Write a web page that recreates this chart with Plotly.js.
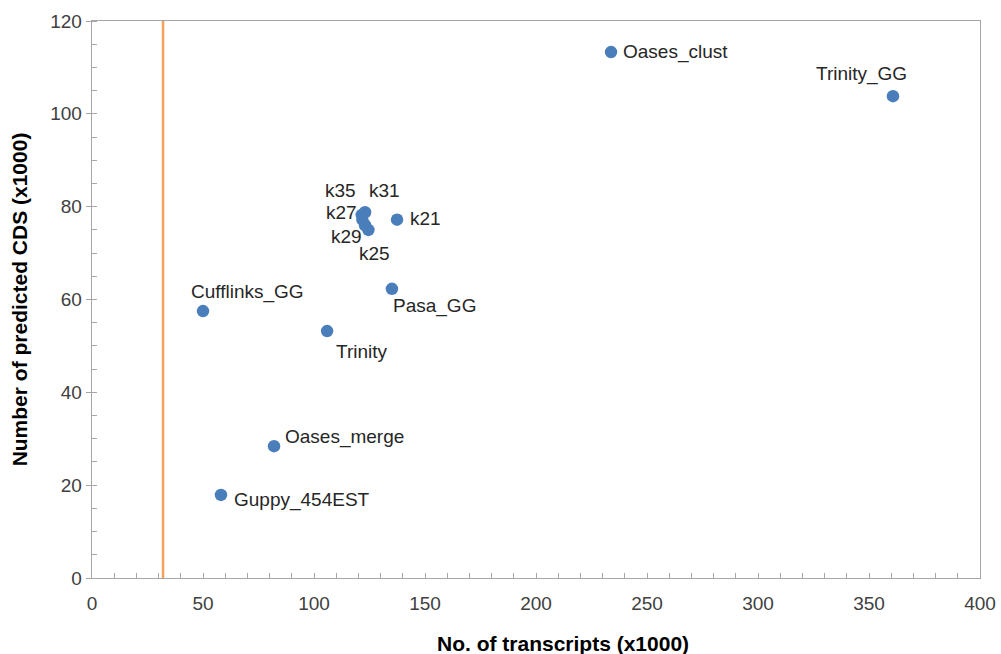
<!DOCTYPE html>
<html>
<head>
<meta charset="utf-8">
<script src="https://cdn.plot.ly/plotly-3.0.1.min.js"></script>
<style>html,body{margin:0;padding:0;background:#fff;}#chart{width:1001px;height:654px;}</style>
</head>
<body>
<div id="chart"></div>
<script>
const labels = ["Oases_clust","Trinity_GG","k21","k31","k35","k27","k29","k25","Pasa_GG","Cufflinks_GG","Trinity","Oases_merge","Guppy_454EST"];
const transcripts = [233.8, 360.8, 137.4, 123.0, 121.5, 121.8, 123.0, 124.5, 135.1, 50.0, 105.9, 82.0, 58.1];
const predictedCDS = [113.3, 103.8, 77.2, 78.8, 78.2, 77.2, 76.0, 75.0, 62.3, 57.5, 53.2, 28.4, 17.9];
const thresholdX = [32];
const xTitle = "No. of transcripts (x1000)";
const yTitle = "Number of predicted CDS (x1000)";

// label placement (styling only)
const labelStyle = {
  "Oases_clust": {xa:"left", xs:10, ys:0},
  "Trinity_GG": {xa:"center", xs:-31, ys:22},
  "k21": {xa:"left", xs:11, ys:1},
  "k31": {xa:"left", xs:2, ys:22},
  "k35": {xa:"right", xs:-4, ys:25},
  "k27": {xa:"right", xs:-3, ys:7},
  "k29": {xa:"right", xs:-1, ys:-11},
  "k25": {xa:"center", xs:6, ys:-24},
  "Pasa_GG": {xa:"left", xs:-1, ys:-17},
  "Cufflinks_GG": {xa:"center", xs:44, ys:19},
  "Trinity": {xa:"left", xs:7, ys:-20},
  "Oases_merge": {xa:"left", xs:9, ys:9},
  "Guppy_454EST": {xa:"left", xs:11, ys:-5}
};

const trace = {
  type: "scatter", mode: "markers",
  x: transcripts, y: predictedCDS, text: labels,
  marker: {color: "#4a7ebb", size: 12.5},
  hoverinfo: "text+x+y"
};

const titleFont = {family: "Liberation Sans, Arial, sans-serif", size: 21, color: "#000"};

const annotations = labels.map((l, i) => ({
  x: transcripts[i], y: predictedCDS[i], text: l,
  showarrow: false, xanchor: labelStyle[l].xa, yanchor: "middle",
  xshift: labelStyle[l].xs, yshift: labelStyle[l].ys,
  font: {family: "Liberation Sans, Arial, sans-serif", size: 19, color: "#262626"}
}));
annotations.push({
  xref: "paper", yref: "paper", x: 0.530, y: -0.1167,
  xanchor: "center", yanchor: "middle", showarrow: false,
  text: "<b>" + xTitle + "</b>", font: titleFont
});

const shapes = thresholdX.map(v => ({
  type: "line", xref: "x", yref: "paper", x0: v, x1: v, y0: 0, y1: 1,
  line: {color: "#f4a15e", width: 2.5}
}));

const axisFont = {family: "Liberation Sans, Arial, sans-serif", size: 19, color: "#404040"};

const layout = {
  width: 1001, height: 654,
  margin: {l: 92, r: 21, t: 21, b: 76},
  paper_bgcolor: "#ffffff", plot_bgcolor: "#ffffff",
  showlegend: false,
  font: axisFont,
  xaxis: {
    range: [0, 400], dtick: 50, tick0: 0,
    showgrid: false, zeroline: false,
    showline: true, linecolor: "#a6a6a6", linewidth: 1.3, mirror: true,
    ticks: "inside", ticklen: 5, tickcolor: "#a6a6a6",
    ticklabelstandoff: 8,
    minor: {dtick: 10, ticks: "inside", ticklen: 5, tickcolor: "#a6a6a6", showgrid: false},
    tickfont: axisFont
  },
  yaxis: {
    range: [0, 120], dtick: 20, tick0: 0,
    showgrid: false, zeroline: false,
    showline: true, linecolor: "#a6a6a6", linewidth: 1.3, mirror: true,
    ticks: "outside", ticklen: 5, tickcolor: "#a6a6a6",
    minor: {dtick: 5, ticks: "inside", ticklen: 5, tickcolor: "#a6a6a6", showgrid: false},
    tickfont: axisFont,
    title: {text: "<b>" + yTitle + "</b>", font: titleFont, standoff: 16}
  },
  annotations: annotations,
  shapes: shapes
};

Plotly.newPlot("chart", [trace], layout, {displayModeBar: false, staticPlot: true});
</script>
</body>
</html>
